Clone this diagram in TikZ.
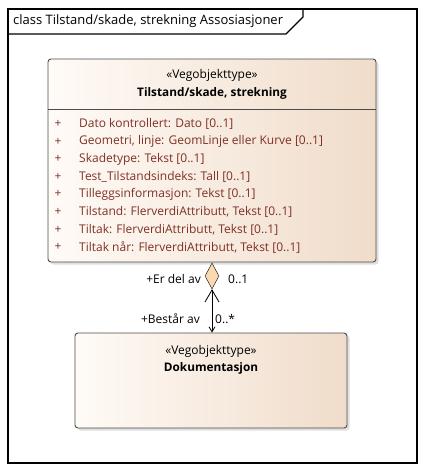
\documentclass[tikz,border=0pt]{standalone}
\usepackage{fontspec}
\setmainfont{Open Sans}
\usetikzlibrary{shapes.geometric,shadows,arrows.meta}
\definecolor{attrtext}{RGB}{128,48,36}
\definecolor{boxleft}{RGB}{255,251,247}
\definecolor{boxright}{RGB}{240,220,202}
\definecolor{aggrfill}{RGB}{250,216,176}
\begin{document}
\begin{tikzpicture}[x=1pt,y=-1pt,font=\fontsize{12}{14}\selectfont]

\tikzset{classbox/.style = {draw=black!70,rounded corners=3pt,left color=boxleft,right color=boxright,
  drop shadow={shadow xshift=2.5pt,shadow yshift=-2.5pt,fill=black!25},inner sep=0,line width=0.9pt}}
\tikzset{attr/.style = {anchor=west,inner sep=0,text=attrtext}}
\tikzset{plus/.style = {inner sep=0,text=attrtext}}
\tikzset{role/.style = {inner sep=1pt}}
\tikzset{aggr/.style = {shape=diamond,draw,fill=aggrfill,inner sep=0,minimum width=14pt,minimum height=26pt}}
\tikzset{assoc/.style = {{Straight Barb[length=12pt,width=14pt]}-{Straight Barb[length=5pt,width=6pt]},line width=0.8pt}}

\useasboundingbox (0,0) rectangle (426,471);

% frame
\draw[line width=1.3pt] (8,9) rectangle (417,463);
\draw[line width=1.1pt] (8,34) -- (286,34) -- (303,17) -- (303,9);
\node[anchor=west,inner sep=0,font=\fontsize{13}{15}\selectfont] (title) at (13,21) {class Tilstand/skade, strekning Assosiasjoner};

% classes
\node[classbox,minimum width=328pt,minimum height=203pt] (tilstand) at (212,160.5) {};
\node[inner sep=0] (st1) at (212,75) {«Vegobjekttype»};
\node[inner sep=0,font=\fontsize{11.8}{14}\bfseries] (n1) at (212,93) {Tilstand/skade, strekning};
\draw[black!70,line width=0.8pt] (tilstand.west |- 0,109) -- (tilstand.east |- 0,109);

\node[plus] (p1) at (58,124.0) {+};
\node[plus] (p2) at (58,141.6) {+};
\node[plus] (p3) at (58,159.2) {+};
\node[plus] (p4) at (58,176.8) {+};
\node[plus] (p5) at (58,194.4) {+};
\node[plus] (p6) at (58,212.0) {+};
\node[plus] (p7) at (58,229.6) {+};
\node[plus] (p8) at (58,247.2) {+};
\node[attr] (a1) at (79,124.0) {Dato kontrollert: Dato [0..1]};
\node[attr] (a2) at (79,141.6) {Geometri, linje: GeomLinje eller Kurve [0..1]};
\node[attr] (a3) at (79,159.2) {Skadetype: Tekst [0..1]};
\node[attr] (a4) at (79,176.8) {Test\_Tilstandsindeks: Tall [0..1]};
\node[attr] (a5) at (79,194.4) {Tilleggsinformasjon: Tekst [0..1]};
\node[attr] (a6) at (79,212.0) {Tilstand: FlerverdiAttributt, Tekst [0..1]};
\node[attr] (a7) at (79,229.6) {Tiltak: FlerverdiAttributt, Tekst [0..1]};
\node[attr] (a8) at (79,247.2) {Tiltak når: FlerverdiAttributt, Tekst [0..1]};

\node[classbox,minimum width=272pt,minimum height=95pt] (dok) at (211,380.5) {};
\node[inner sep=0] (st2) at (211,351) {«Vegobjekttype»};
\node[inner sep=0,font=\fontsize{11.8}{14}\bfseries] (n2) at (211,368) {Dokumentasjon};

%edges
\node[aggr] (agg) at (212,276) {};
\draw[assoc] (agg.south) -- (agg.south |- dok.north);

% roles
\node[role,anchor=east] (r1) at (202,279) {+Er del av};
\node[role,anchor=west] (m1) at (227,279) {0..1};
\node[role,anchor=east] (r2) at (201,319) {+Består av};
\node[role,anchor=west] (m2) at (214,319) {0..*};
\end{tikzpicture}
\end{document}
